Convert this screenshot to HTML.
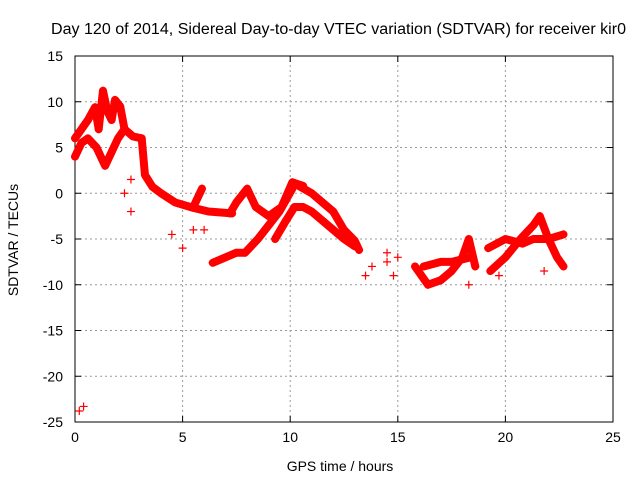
<!DOCTYPE html>
<html><head><meta charset="utf-8"><style>
body{margin:0;background:#fff;}
text{font-family:"Liberation Sans",sans-serif;font-size:14px;fill:#000;}
</style></head><body>
<svg id="chart" width="640" height="480" xmlns="http://www.w3.org/2000/svg">
<rect width="640" height="480" fill="#fff"/>
<text x="51" y="34" textLength="575" lengthAdjust="spacingAndGlyphs" style="font-size:15.5px">Day 120 of 2014, Sidereal Day-to-day VTEC variation (SDTVAR) for receiver kir0</text>
<g id="grid"></g>
<g id="axes"></g>
<g id="series"></g>
<text x="340" y="471" text-anchor="middle">GPS time / hours</text>
<text transform="translate(18,240) rotate(-90)" text-anchor="middle">SDTVAR / TECUs</text>
</svg>
<script>
const xTicks=[0,5,10,15,20,25];
const yTicks=[15,10,5,0,-5,-10,-15,-20,-25];
const trackA=[[0,6],[0.3,7],[0.6,8],[0.93,9.4],[1.1,7],[1.3,11.2],[1.5,9],[1.7,8],[1.86,10.2],[2.1,9.5],[2.3,7],[2.7,6.2],[3.1,6],[3.25,2],[3.6,0.7],[4.0,0],[4.65,-1],[5.5,-1.6],[6.2,-2],[7.3,-2.2]];
const trackB=[[0,4],[0.3,5.5],[0.6,6],[1.0,5],[1.2,4],[1.4,3],[1.7,4.5],[2.0,6],[2.3,7]];
const trackC=[[5.5,-1.5],[5.9,0.5]];
const trackE=[[6.4,-7.6],[7.0,-7],[7.5,-6.5],[7.9,-6.5],[8.5,-5],[9.0,-3.5],[9.5,-2],[10.1,0.5]];
const trackF=[[7.2,-2.2],[7.5,-1],[8.0,0.5],[8.4,-1.5],[9.0,-2.5],[9.6,-1.5],[10.1,1.2],[10.6,0.8]];
const trackG=[[10.4,0.8],[11.0,0],[11.5,-1],[12.0,-2],[12.5,-4],[13.0,-5.2],[13.2,-6.2]];
const trackH=[[9.3,-5],[9.8,-3],[10.2,-1.5],[10.6,-1.5],[11.0,-2],[11.5,-3],[12.0,-4],[12.5,-5],[13.0,-5.8]];
const trackI=[[15.8,-8],[16.4,-10],[17,-9.5],[17.5,-8.5],[18,-7],[18.3,-5],[18.6,-8]];
const trackJ=[[16.2,-8],[17,-7.5],[17.5,-7.5],[18.4,-7]];
const trackK=[[19.3,-8.5],[20.0,-7],[20.7,-5],[21.3,-3.5],[21.6,-2.5],[22.0,-5],[22.4,-7],[22.7,-8]];
const trackL=[[19.2,-6],[20.0,-5],[20.8,-5.5],[21.3,-5],[22.0,-5],[22.7,-4.5]];
const scatter=[[0.2,-23.8],[0.4,-23.3],[2.3,0],[2.6,1.5],[2.6,-2],[4.5,-4.5],[5.0,-6],[5.5,-4],[6.0,-4],[13.5,-9],[13.8,-8],[14.5,-7.5],[14.8,-9],[15.0,-7],[14.5,-6.5],[18.3,-10],[19.7,-9],[21.8,-8.5]];
const tracks=[trackA,trackB,trackC,trackE,trackF,trackG,trackH,trackI,trackJ,trackK,trackL];
const X0=75,X1=613,Y0=422,Y1=56;
const sx=v=>X0+(v-0)/25*(X1-X0);
const sy=v=>Y0-(v+25)/40*(Y0-Y1);
const NS="http://www.w3.org/2000/svg";
const grid=document.getElementById('grid'),axes=document.getElementById('axes'),ser=document.getElementById('series');
function mk(tag,attrs,parent){const e=document.createElementNS(NS,tag);for(const k in attrs)e.setAttribute(k,attrs[k]);parent.appendChild(e);return e;}
xTicks.forEach(t=>{
 if(t>0&&t<25){const g=mk('line',{x1:sx(t),x2:sx(t),y1:Y0,y2:Y1,stroke:'#999','stroke-dasharray':'2,3'},grid);
 
 }
 const l=mk('text',{x:sx(t),y:Y0+20,'text-anchor':'middle'},axes);l.textContent=t;
 
 
 mk('line',{x1:sx(t),x2:sx(t),y1:Y0,y2:Y0-6,stroke:'#000'},axes);
 mk('line',{x1:sx(t),x2:sx(t),y1:Y1,y2:Y1+6,stroke:'#000'},axes);
});
yTicks.forEach(t=>{
 if(t>-25&&t<15){const g=mk('line',{x1:X0,x2:X1,y1:sy(t),y2:sy(t),stroke:'#999','stroke-dasharray':'2,3'},grid);
 
 }
 const l=mk('text',{x:X0-12,y:sy(t)+5,'text-anchor':'end'},axes);l.textContent=t;
 
 
 mk('line',{x1:X0,x2:X0+6,y1:sy(t),y2:sy(t),stroke:'#000'},axes);
 mk('line',{x1:X1,x2:X1-6,y1:sy(t),y2:sy(t),stroke:'#000'},axes);
});
mk('rect',{x:X0,y:Y1,width:X1-X0,height:Y0-Y1,fill:'none',stroke:'#000'},axes);
function plus(p){
 const x=sx(p[0]),y=sy(p[1]);
 const m=mk('path',{d:`M${x-4},${y}H${x+4}M${x},${y-4}V${y+4}`,stroke:'#f00','stroke-width':1.2},ser);
 
 
}
tracks.forEach(tr=>{
 const pl=mk('polyline',{points:tr.map(p=>sx(p[0])+','+sy(p[1])).join(' '),fill:'none',stroke:'#f00','stroke-width':8,'stroke-linejoin':'round','stroke-linecap':'round'},ser);
 
 
 tr.forEach(plus);
});
scatter.forEach(plus);
</script>
</body></html>
